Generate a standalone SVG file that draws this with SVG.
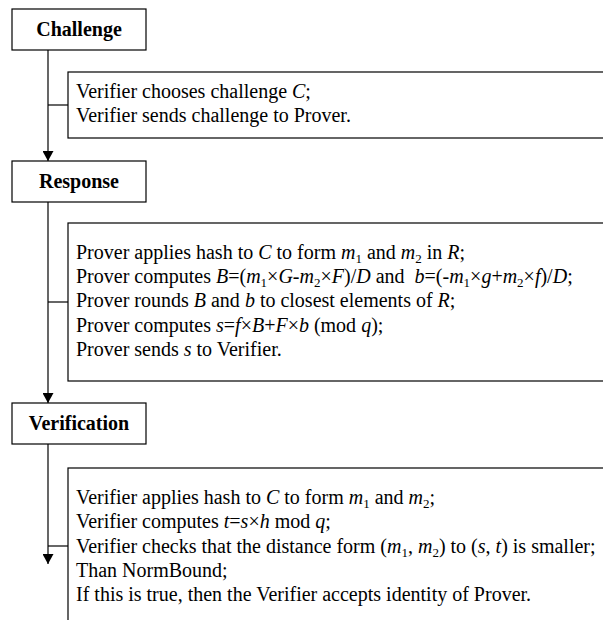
<svg xmlns="http://www.w3.org/2000/svg" width="603" height="620" viewBox="0 0 603 620">
<defs>
<style>
.hdr{fill:#fff;stroke:#000;stroke-width:1.2}
.box{fill:#fff;stroke:#000;stroke-width:1.2}
.i{font-style:italic}
.s{font-size:13px}
.c{fill:none;stroke:#000;stroke-width:1.2}
</style>
<marker id="arr" markerUnits="userSpaceOnUse" markerWidth="11" markerHeight="11" viewBox="0 0 10 11" refX="10" refY="5.5" orient="auto">
<path d="M0,0 L10,5.5 L0,11 z" fill="#000"/>
</marker>
</defs>
<rect width="603" height="620" fill="#fff"/>
<g id="connectors">
<line class="c" x1="48" y1="50" x2="48" y2="161" marker-end="url(#arr)"/>
<line class="c" x1="48" y1="105" x2="68" y2="105"/>
<line class="c" x1="48" y1="202" x2="48" y2="403" marker-end="url(#arr)"/>
<line class="c" x1="48" y1="302" x2="68" y2="302"/>
<line class="c" x1="48" y1="444" x2="48" y2="564" marker-end="url(#arr)"/>
<line class="c" x1="48" y1="546" x2="68" y2="546"/>
</g>
<g font-family="Liberation Serif" font-size="20" fill="#000">
<g id="challenge">
<rect class="hdr" x="12" y="9" width="134" height="41"/>
<text x="79" y="36" font-weight="bold" text-anchor="middle">Challenge</text>
</g>
<g id="challenge-detail">
<rect class="box" x="68" y="72" width="560" height="66"/>
<text x="76" y="98">Verifier chooses challenge <tspan class="i">C</tspan>;</text>
<text x="76" y="122">Verifier sends challenge to Prover.</text>
</g>
<g id="response">
<rect class="hdr" x="12" y="161" width="134" height="41"/>
<text x="79" y="188" font-weight="bold" text-anchor="middle">Response</text>
</g>
<g id="response-detail">
<rect class="box" x="68" y="223" width="560" height="158"/>
<text x="76" y="259">Prover applies hash to <tspan class="i">C</tspan> to form <tspan class="i">m</tspan><tspan class="s" dy="4">1</tspan><tspan dy="-4"> and </tspan><tspan class="i">m</tspan><tspan class="s" dy="4">2</tspan><tspan dy="-4"> in </tspan><tspan class="i">R</tspan>;</text>
<text x="76" y="283" xml:space="preserve">Prover computes <tspan class="i">B</tspan>=(<tspan class="i">m</tspan><tspan class="s" dy="4">1</tspan><tspan dy="-4">×</tspan><tspan class="i">G</tspan>-<tspan class="i">m</tspan><tspan class="s" dy="4">2</tspan><tspan dy="-4">×</tspan><tspan class="i">F</tspan>)/<tspan class="i">D</tspan> and  <tspan class="i">b</tspan>=(-<tspan class="i">m</tspan><tspan class="s" dy="4">1</tspan><tspan dy="-4">×</tspan><tspan class="i">g</tspan>+<tspan class="i">m</tspan><tspan class="s" dy="4">2</tspan><tspan dy="-4">×</tspan><tspan class="i">f</tspan>)/<tspan class="i">D</tspan>;</text>
<text x="76" y="307">Prover rounds <tspan class="i">B</tspan> and <tspan class="i">b</tspan> to closest elements of <tspan class="i">R</tspan>;</text>
<text x="76" y="332">Prover computes <tspan class="i">s</tspan>=<tspan class="i">f</tspan>×<tspan class="i">B</tspan>+<tspan class="i">F</tspan>×<tspan class="i">b</tspan> (mod <tspan class="i">q</tspan>);</text>
<text x="76" y="356">Prover sends <tspan class="i">s</tspan> to Verifier.</text>
</g>
<g id="verification">
<rect class="hdr" x="12" y="403" width="134" height="41"/>
<text x="79" y="430" font-weight="bold" text-anchor="middle">Verification</text>
</g>
<g id="verification-detail">
<rect class="box" x="68" y="468" width="560" height="200"/>
<text x="76" y="504">Verifier applies hash to <tspan class="i">C</tspan> to form <tspan class="i">m</tspan><tspan class="s" dy="4">1</tspan><tspan dy="-4"> and </tspan><tspan class="i">m</tspan><tspan class="s" dy="4">2</tspan><tspan dy="-4">;</tspan></text>
<text x="76" y="528">Verifier computes <tspan class="i">t</tspan>=<tspan class="i">s</tspan>×<tspan class="i">h</tspan> mod <tspan class="i">q</tspan>;</text>
<text x="76" y="553">Verifier checks that the distance form (<tspan class="i">m</tspan><tspan class="s" dy="4">1</tspan><tspan dy="-4">, </tspan><tspan class="i">m</tspan><tspan class="s" dy="4">2</tspan><tspan dy="-4">) to (</tspan><tspan class="i">s</tspan>, <tspan class="i">t</tspan>) is smaller;</text>
<text x="76" y="577">Than NormBound;</text>
<text x="76" y="601">If this is true, then the Verifier accepts identity of Prover.</text>
</g>
</g>
</svg>
